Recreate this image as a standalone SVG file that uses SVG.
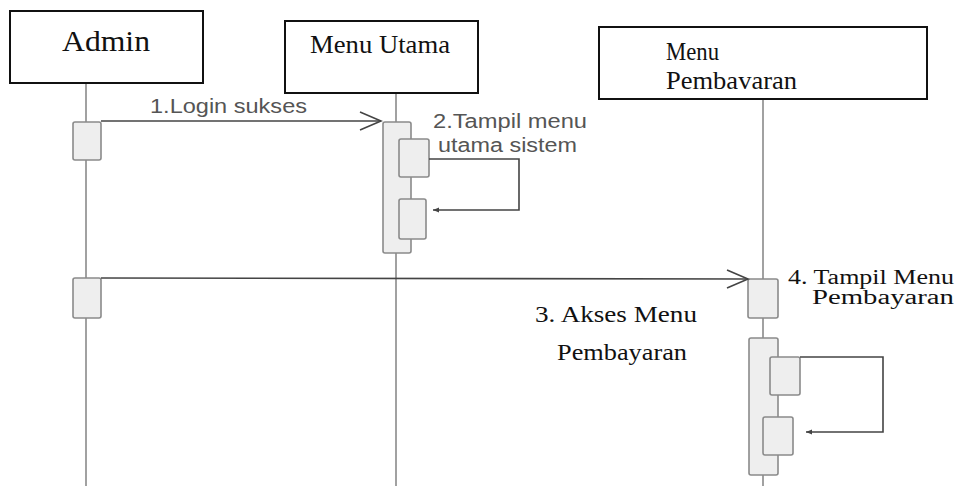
<svg xmlns="http://www.w3.org/2000/svg" width="960" height="486" viewBox="0 0 960 486">
<style>
.head{fill:#fff;stroke:#111;stroke-width:2}
.life{stroke:#8a8a8a;stroke-width:1.6;fill:none}
.act{fill:#eeeeee;stroke:#8a8a8a;stroke-width:1.6}
.msg{stroke:#444;stroke-width:1.6;fill:none}
.serif{font-family:"Liberation Serif","Times New Roman",serif;fill:#111}
.sans{font-family:"Liberation Sans",Arial,sans-serif;fill:#555}
</style>
<defs>
<marker id="open" markerWidth="24" markerHeight="20" refX="22" refY="10" orient="auto" markerUnits="userSpaceOnUse">
<path d="M1,1 L22,10 L1,19" fill="none" stroke="#444" stroke-width="1.6"/>
</marker>
<marker id="small" markerWidth="8" markerHeight="8" refX="6" refY="4" orient="auto" markerUnits="userSpaceOnUse">
<path d="M0,1.5 L6,4 L0,6.5 Z" fill="#444"/>
</marker>
</defs>
<rect width="960" height="486" fill="#fff"/>
<g id="admin">
<line class="life" x1="86" y1="83" x2="86" y2="486"/>
<rect class="head" x="10" y="11" width="193" height="72"/>
<text class="serif" x="62" y="51" font-size="30" textLength="88" lengthAdjust="spacingAndGlyphs">Admin</text>
<rect class="act" x="73" y="122" width="28" height="38" rx="2"/>
<rect class="act" x="73" y="278" width="28" height="40" rx="2"/>
</g>
<g id="menu-utama">
<line class="life" x1="396" y1="93" x2="396" y2="486"/>
<rect class="head" x="285" y="21" width="193" height="72"/>
<text class="serif" x="310" y="53" font-size="26" textLength="140" lengthAdjust="spacingAndGlyphs">Menu Utama</text>
<rect class="act" x="383" y="122" width="28" height="131" rx="2"/>
<rect class="act" x="399" y="139" width="30" height="38" rx="2"/>
<rect class="act" x="399" y="199" width="27" height="40" rx="2"/>
</g>
<g id="menu-pembayaran">
<line class="life" x1="763" y1="99" x2="763" y2="486"/>
<rect class="head" x="599" y="27" width="328" height="72"/>
<text class="serif" x="666" y="60" font-size="25" textLength="53" lengthAdjust="spacingAndGlyphs">Menu</text>
<text class="serif" x="666" y="89" font-size="25" textLength="131" lengthAdjust="spacingAndGlyphs">Pembavaran</text>
<rect class="act" x="748" y="279" width="30" height="39" rx="2"/>
<rect class="act" x="749" y="338" width="29" height="137" rx="2"/>
<rect class="act" x="770" y="357" width="30" height="38" rx="2"/>
<rect class="act" x="763" y="417" width="30" height="38" rx="2"/>
</g>
<g id="connectors">
<line class="msg" x1="101" y1="121" x2="381" y2="121" marker-end="url(#open)"/>
<text class="sans" x="150" y="113" font-size="20" textLength="157" lengthAdjust="spacingAndGlyphs">1.Login sukses</text>
<polyline class="msg" points="429,159 519,159 519,210 433,210" marker-end="url(#small)"/>
<text class="sans" x="433" y="128" font-size="20" textLength="154" lengthAdjust="spacingAndGlyphs">2.Tampil menu</text>
<text class="sans" x="438" y="152" font-size="20" textLength="139" lengthAdjust="spacingAndGlyphs">utama sistem</text>
<line class="msg" x1="101" y1="278" x2="748" y2="279" marker-end="url(#open)"/>
<text class="serif" x="535" y="322" font-size="23" textLength="162" lengthAdjust="spacingAndGlyphs">3. Akses Menu</text>
<text class="serif" x="557" y="360" font-size="23" textLength="130" lengthAdjust="spacingAndGlyphs">Pembayaran</text>
<polyline class="msg" points="800,357 883,357 883,432 806,432" marker-end="url(#small)"/>
<text class="serif" x="788" y="284" font-size="20" textLength="166" lengthAdjust="spacingAndGlyphs">4. Tampil Menu</text>
<text class="serif" x="812" y="304" font-size="20" textLength="142" lengthAdjust="spacingAndGlyphs">Pembayaran</text>
</g>
</svg>
